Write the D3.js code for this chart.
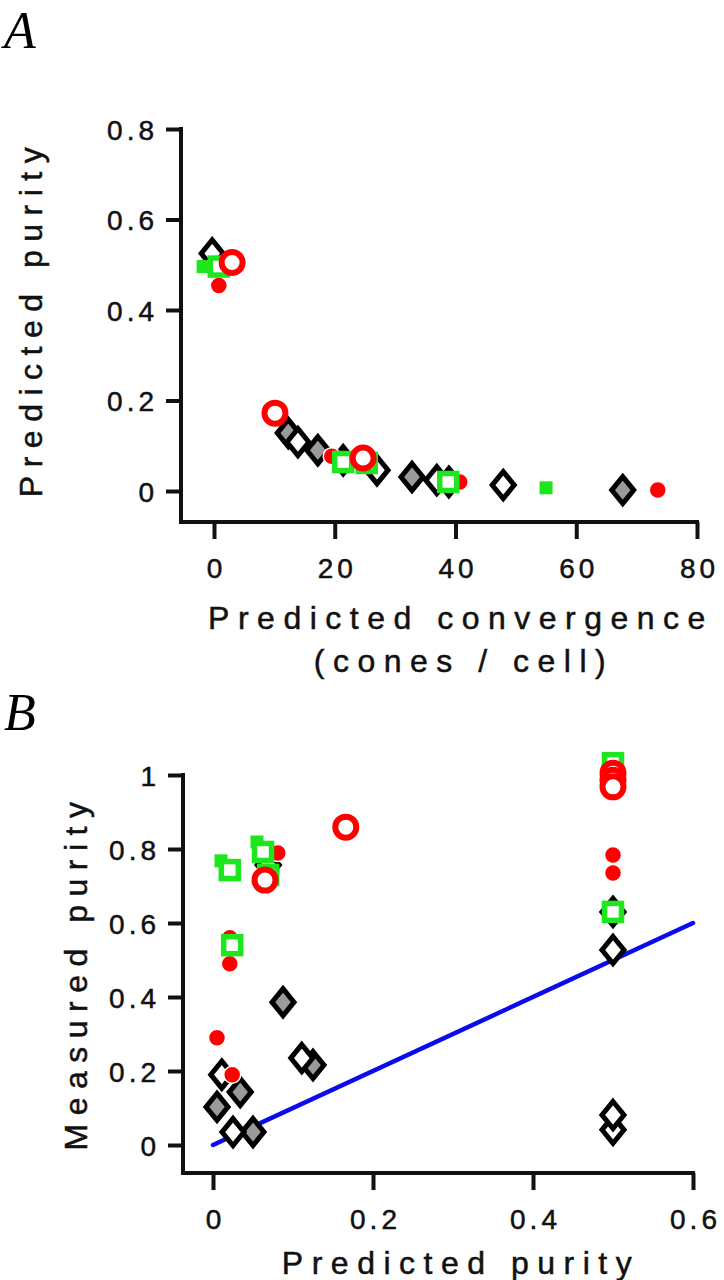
<!DOCTYPE html>
<html><head><meta charset="utf-8">
<script src="https://cdn.jsdelivr.net/npm/d3@7"></script>
<style>
html,body{margin:0;padding:0;background:#fff;}
svg{display:block;}
</style></head>
<body>
<svg id="chart" width="724" height="1280"></svg>
<script>
// ---------- Panel A data: [predicted convergence, predicted purity] ----------
const aXTicks = [0, 20, 40, 60, 80];
const aYTicks = [0, 0.2, 0.4, 0.6, 0.8];
const aOpenDiamonds = [[47.9,0.013],[38.9,0.02],[36.9,0.024],[27.0,0.046],[21.4,0.068],[13.9,0.108],[-0.3,0.525]];
const aGrayDiamonds = [[12.3,0.128],[17.2,0.09],[32.8,0.031],[67.7,0.002]];
const aRedDots = [[0.8,0.454],[19.5,0.077],[40.7,0.020],[73.5,0.002]];
const aGreenFilled = [[-1.8,0.496],[55.0,0.007]];
const aGreenOpen = [[0.8,0.496],[21.4,0.064],[25.3,0.062],[38.8,0.02]];
const aRedCircles = [[3.0,0.505],[10.1,0.172],[24.7,0.073]];

// ---------- Panel B data: [predicted purity, measured purity] ----------
const bXTicks = [0, 0.2, 0.4, 0.6];
const bYTicks = [0, 0.2, 0.4, 0.6, 0.8, 1];
const bGrayDiamonds = [[0.005,0.103],[0.034,0.143],[0.05,0.035],[0.0875,0.386],[0.125,0.216]];
const bOpenDiamonds = [[0.011,0.19],[0.025,0.035],[0.111,0.235],[0.069,0.757],[0.5,0.63],[0.5,0.527],[0.5,0.041],[0.5,0.081]];
const bRedDots = [[0.005,0.29],[0.024,0.19],[0.021,0.56],[0.021,0.49],[0.081,0.789],[0.5,0.784],[0.5,0.735]];
const bGreenFilled = [[0.01,0.768],[0.055,0.819]];
const bGreenOpen = [[0.021,0.743],[0.0625,0.792],[0.069,0.73],[0.024,0.54],[0.5,1.032],[0.5,0.63]];
const bRedCircles = [[0.065,0.716],[0.166,0.859],[0.5,1.005],[0.5,0.986],[0.5,0.968]];
const bUnityLine = [[0,0],[0.6,0.6]];

const FONT = "'Liberation Sans', Arial, Helvetica, sans-serif";
const INK = "#111";
const RED = "#ff0000", GREEN = "#1ee61e", GRAY = "#9a9a9a", BLUE = "#0a0aee";
const svg = d3.select("#chart");

function styleAxis(g, tickFont) {
  g.select(".domain").remove();
  g.selectAll(".tick line").attr("stroke", INK).attr("stroke-width", 4);
  g.selectAll(".tick text").attr("fill", INK)
    .attr("stroke", INK).attr("stroke-width", 0.5)
    .style("font-family", FONT).style("font-size", tickFont + "px")
    .style("letter-spacing", "4px");
}

function drawPanel(cfg) {
  const {x, y, xTicks, yTicks, xFmt, yFmt, axisX, axisY} = cfg;
  svg.append("path")
    .attr("d", `M${axisX},${y(yTicks[yTicks.length-1]) - 2}V${axisY}H${x(xTicks[xTicks.length-1]) + 2}`)
    .attr("fill", "none").attr("stroke", INK).attr("stroke-width", 4)
    .attr("stroke-linejoin", "miter");
  const gy = svg.append("g").attr("transform", `translate(${axisX},0)`)
    .call(d3.axisLeft(y).tickValues(yTicks).tickFormat(yFmt).tickSize(15).tickPadding(8));
  styleAxis(gy, 28);
  gy.selectAll(".tick text").attr("dy", "0.36em");
  const gx = svg.append("g").attr("transform", `translate(0,${axisY})`)
    .call(d3.axisBottom(x).tickValues(xTicks).tickFormat(xFmt).tickSize(17).tickPadding(19));
  styleAxis(gx, 28);
  gx.selectAll(".tick text").attr("dx", "2px");
}

function diamondPath(cx, cy) {
  const hw = 11, hh = 13.5;
  return `M${cx},${cy-hh}L${cx+hw},${cy}L${cx},${cy+hh}L${cx-hw},${cy}Z`;
}

function drawMarkers(x, y, sets) {
  const g = svg.append("g");
  g.selectAll(null).data(sets.gray).join("path")
    .attr("d", d => diamondPath(x(d[0]), y(d[1])))
    .attr("fill", GRAY).attr("stroke", "#000").attr("stroke-width", 5).attr("stroke-linejoin", "miter");
  g.selectAll(null).data(sets.open).join("path")
    .attr("d", d => diamondPath(x(d[0]), y(d[1])))
    .attr("fill", "#fff").attr("stroke", "#000").attr("stroke-width", 5).attr("stroke-linejoin", "miter");
  g.selectAll(null).data(sets.dots).join("circle")
    .attr("cx", d => x(d[0])).attr("cy", d => y(d[1])).attr("r", 8.5)
    .attr("fill", RED).attr("stroke", "#fff").attr("stroke-width", 1.5);
  g.selectAll(null).data(sets.gfill).join("rect")
    .attr("x", d => x(d[0]) - 6.5).attr("y", d => y(d[1]) - 6.5)
    .attr("width", 13).attr("height", 13).attr("fill", GREEN);
  g.selectAll(null).data(sets.gopen).join("rect")
    .attr("x", d => x(d[0]) - 8.5).attr("y", d => y(d[1]) - 8.5)
    .attr("width", 17).attr("height", 17).attr("fill", "#fff")
    .attr("stroke", GREEN).attr("stroke-width", 5.5);
  g.selectAll(null).data(sets.circles).join("circle")
    .attr("cx", d => x(d[0])).attr("cy", d => y(d[1])).attr("r", 10.5)
    .attr("fill", "#fff").attr("stroke", RED).attr("stroke-width", 6);
}

function title(txt, tx, ty, rotate) {
  svg.append("text").text(txt)
    .attr("transform", `translate(${tx},${ty})` + (rotate ? " rotate(-90)" : ""))
    .attr("text-anchor", "middle").attr("fill", INK)
    .attr("stroke", INK).attr("stroke-width", 0.5)
    .style("font-family", FONT).style("font-size", "32px").style("letter-spacing", "8.5px");
}

function panelLabel(txt, tx, ty) {
  svg.append("text").text(txt).attr("x", tx).attr("y", ty)
    .attr("fill", "#000")
    .style("font-family", "'Liberation Serif', 'Times New Roman', serif")
    .style("font-style", "italic").style("font-size", "52px");
}

// ---------- Panel A ----------
const xA = d3.scaleLinear().domain([0, 80]).range([214, 697]);
const yA = d3.scaleLinear().domain([0, 0.8]).range([491, 129]);
drawPanel({x: xA, y: yA, xTicks: aXTicks, yTicks: aYTicks,
  xFmt: d3.format("d"), yFmt: d => d === 0 ? "0" : d3.format(".1f")(d), axisX: 181, axisY: 522});
drawMarkers(xA, yA, {gray: aGrayDiamonds, open: aOpenDiamonds, dots: aRedDots,
  gfill: aGreenFilled, gopen: aGreenOpen, circles: aRedCircles});
title("Predicted convergence", 461, 629, false);
title("(cones / cell)", 464, 672, false);
title("Predicted purity", 42, 318, true);
panelLabel("A", 4, 48);

// ---------- Panel B ----------
const xB = d3.scaleLinear().domain([0, 0.6]).range([213, 693]);
const yB = d3.scaleLinear().domain([0, 1]).range([1145, 775]);
drawPanel({x: xB, y: yB, xTicks: bXTicks, yTicks: bYTicks,
  xFmt: d => d === 0 ? "0" : d3.format(".1f")(d), yFmt: d => (d === 0 || d === 1) ? String(d) : d3.format(".1f")(d),
  axisX: 183, axisY: 1173});
svg.append("line")
  .attr("x1", xB(bUnityLine[0][0])).attr("y1", yB(bUnityLine[0][1]))
  .attr("x2", xB(bUnityLine[1][0])).attr("y2", yB(bUnityLine[1][1]))
  .attr("stroke", BLUE).attr("stroke-width", 4.5).attr("stroke-linecap", "round");
drawMarkers(xB, yB, {gray: bGrayDiamonds, open: bOpenDiamonds, dots: bRedDots,
  gfill: bGreenFilled, gopen: bGreenOpen, circles: bRedCircles});
title("Predicted purity", 461, 1274, false);
title("Measured purity", 87, 972, true);
panelLabel("B", 4, 730);
</script>
</body></html>
